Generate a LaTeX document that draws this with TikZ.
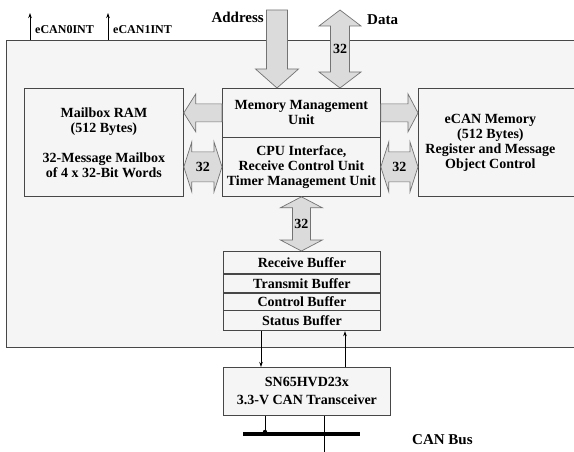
\documentclass[tikz,border=0pt]{standalone}
\usepackage{fontspec}
\setmainfont{Liberation Serif}
\usetikzlibrary{positioning,calc,arrows.meta}

\definecolor{panel}{gray}{0.96}
\definecolor{arrowfill}{gray}{0.86}
\definecolor{arrowline}{gray}{0.45}
\definecolor{boxline}{gray}{0.28}

\tikzset{
  box/.style={rectangle,draw=boxline,fill=panel,line width=0.8pt,inner sep=0pt,align=center,
    font=\fontsize{14pt}{15pt}\selectfont\bfseries},
  bufrow/.style={box,minimum width=157pt,text height=10pt,text depth=0pt},
  blockarrow/.style={draw=arrowline,fill=arrowfill,line width=0.7pt,line join=miter},
  num/.style={inner sep=0pt,font=\fontsize{14pt}{15pt}\selectfont\bfseries},
  lbl/.style={inner sep=0pt,font=\fontsize{15pt}{16pt}\selectfont\bfseries},
  smalllbl/.style={inner sep=0pt,font=\fontsize{12pt}{13pt}\selectfont\bfseries},
  sig/.style={draw=black,line width=0.7pt},
  >={Stealth[length=5pt,width=3.5pt]}
}

% fat arrow, two heads: tips #1 and #2, shaft half width #3, head half width #4, head length #5
\newcommand{\dblarrow}[5]{%
  \draw[blockarrow] (#1)
    -- ($(#1)!#5!(#2)!#4!90:(#2)$) -- ($(#1)!#5!(#2)!#3!90:(#2)$)
    -- ($(#2)!#5!(#1)!#3!-90:(#1)$) -- ($(#2)!#5!(#1)!#4!-90:(#1)$)
    -- (#2)
    -- ($(#2)!#5!(#1)!#4!90:(#1)$) -- ($(#2)!#5!(#1)!#3!90:(#1)$)
    -- ($(#1)!#5!(#2)!#3!-90:(#2)$) -- ($(#1)!#5!(#2)!#4!-90:(#2)$)
    -- cycle;}
% fat arrow, one head: tail #1, tip #2
\newcommand{\sglarrow}[5]{%
  \draw[blockarrow] ($(#1)!#3!90:(#2)$)
    -- ($(#2)!#5!(#1)!#3!-90:(#1)$) -- ($(#2)!#5!(#1)!#4!-90:(#1)$)
    -- (#2)
    -- ($(#2)!#5!(#1)!#4!90:(#1)$) -- ($(#2)!#5!(#1)!#3!90:(#1)$)
    -- ($(#1)!#3!-90:(#2)$) -- cycle;}

\begin{document}
\begin{tikzpicture}[x=1pt,y=-1pt]
  \path[use as bounding box,clip] (0,0) rectangle (574,452);

  % eCAN module
  \node[box,minimum width=600pt,minimum height=307pt,anchor=north west] (chip) at (6,40) {};

  % memories and control
  \node[box,minimum width=159pt,minimum height=108pt,anchor=north west] (mbx) at (24,88)
    {Mailbox RAM\\(512 Bytes)\\[15pt]32-Message Mailbox\\of 4 x 32-Bit Words};
  \node[box,minimum width=158pt,minimum height=49pt,anchor=north west] (mmu) at (222,88)
    {Memory Management\\Unit};
  \node[box,minimum width=158pt,minimum height=59pt,anchor=north west] (cpu) at (222,137)
    {CPU Interface,\\Receive Control Unit\\Timer Management Unit};
  \node[box,draw=none,minimum width=144pt,minimum height=108pt,anchor=north west] (ecan) at (418,88)
    {eCAN Memory\\(512 Bytes)\\Register and Message\\Object Control};
  \draw[draw=boxline,line width=0.8pt] (ecan.north west) rectangle ($(ecan.south east)+(60,0)$);

  % buffers
  \node[bufrow,minimum height=22pt,anchor=north west] (rbuf) at (223,251) {Receive Buffer};
  \node[bufrow,minimum height=18pt,below=0pt of rbuf] (tbuf) {Transmit Buffer};
  \node[bufrow,minimum height=17pt,below=0pt of tbuf] (cbuf) {Control Buffer};
  \node[bufrow,minimum height=20pt,below=0pt of cbuf] (sbuf) {Status Buffer};

  % transceiver
  \node[box,minimum width=167pt,minimum height=48pt,anchor=north west] (xcvr) at (223,367)
    {SN65HVD23x\\[3pt]3.3-V CAN Transceiver};

  % interrupt lines
  \coordinate (int0) at ($(chip.north west)+(24,0)$);
  \coordinate (int1) at ($(chip.north west)+(102,0)$);
  \draw[sig,->] (int0) -- ++(0,-27) coordinate (int0top);
  \draw[sig,->] (int1) -- ++(0,-27) coordinate (int1top);
  \node[smalllbl,anchor=west] (int0lbl) at ($(int0)+(5,-10)$) {eCAN0INT};
  \node[smalllbl,anchor=west] (int1lbl) at ($(int1)+(5,-10)$) {eCAN1INT};

  % address and data
  \coordinate (addr) at (277,10);
  \coordinate (data) at (340,10);
  \sglarrow{addr}{addr |- mmu.north}{10.5pt}{21.5pt}{19pt}
  \dblarrow{data}{data |- mmu.north}{9.5pt}{21pt}{16pt}
  \node[num] (datanum) at ($(data)!.5!(data |- mmu.north)$) {32};
  \node[lbl,anchor=east] (addrlbl) at ($(addr)+(-13,7)$) {Address};
  \node[lbl,anchor=west] (datalbl) at ($(data)+(27,10)$) {Data};

  % internal buses
  \sglarrow{mmu.west}{mbx.east |- mmu.west}{9pt}{19pt}{12pt}
  \sglarrow{mmu.east}{ecan.west |- mmu.east}{9pt}{19pt}{10pt}
  \dblarrow{mbx.east |- cpu.west}{cpu.west}{15pt}{25pt}{8pt}
  \dblarrow{cpu.east}{ecan.west |- cpu.east}{15pt}{25pt}{8pt}
  \node[num] (lnum) at ($(mbx.east |- cpu.west)!.5!(cpu.west)$) {32};
  \node[num] (rnum) at ($(cpu.east)!.5!(ecan.west |- cpu.east)$) {32};
  \dblarrow{cpu.south}{cpu.south |- rbuf.north}{9pt}{21pt}{11pt}
  \node[num] (bnum) at ($(cpu.south)!.5!(cpu.south |- rbuf.north)$) {32};

  % rx / tx lines
  \coordinate (rx) at ($(sbuf.south west)+(38,0)$);
  \coordinate (tx) at ($(sbuf.south west)+(122,0)$);
  \draw[sig,->] (rx) -- (rx |- xcvr.north);
  \draw[sig,->] (tx |- xcvr.north) -- (tx);

  % CAN bus
  \coordinate (busl) at (243,434);
  \coordinate (busr) at (360,434);
  \draw[line width=4pt] (busl) -- (busr);
  \coordinate (canh) at ($(xcvr.south west)+(42,0)$);
  \coordinate (canl) at ($(xcvr.south west)+(101,0)$);
  \draw[sig] (canh) -- (canh |- busl);
  \fill (canh |- busl) ++(0,-2) circle (2.2);
  \draw[sig] (canl) -- ++(0,45);
  \node[lbl,anchor=west] (buslbl) at (412,440) {CAN Bus};
\end{tikzpicture}
\end{document}
